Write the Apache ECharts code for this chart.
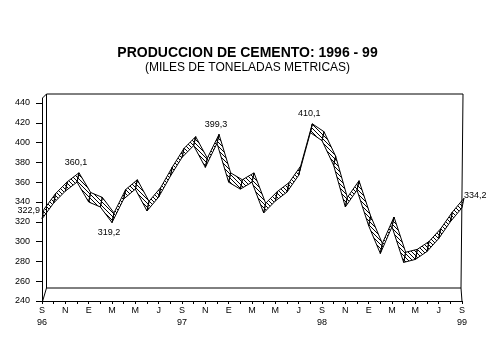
<!DOCTYPE html>
<html><head><meta charset="utf-8">
<script src="https://cdn.jsdelivr.net/npm/echarts@6/dist/echarts.min.js"></script>
<style>html,body{margin:0;padding:0;background:#fff}#c{width:495px;height:356px}</style>
</head><body><div id="c"></div>
<script>
// ---- data ----
const categories = ['S\n96','O','N','D','E','F','M','A','M','J','J','A',
                    'S\n97','O','N','D','E','F','M','A','M','J','J','A',
                    'S\n98','O','N','D','E','F','M','A','M','J','J','A','S\n99'];
const production = [322.9, 339, 351, 360.1, 340, 335, 319.2, 343, 353, 331, 345, 366,
                    385, 397, 375, 399.3, 360, 353, 360, 329, 341, 350, 367, 410.1,
                    402, 377, 335, 352, 316, 288, 315, 279, 282, 290, 303, 320, 334.2];
const yMin = 240, yMax = 440, yStep = 20;
const labeledIdx = [0, 3, 6, 15, 23, 36];

// ---- layout / style ----
const FONT = '"Liberation Sans", Arial, sans-serif';
const F = {left: 42, top: 103, width: 420, height: 198};     // front plane
const B = {top: 94.5, height: 196, dx: 2};                   // back plane (depth)
const WALL = {l: 46.5, t: 94, r: 463, rb: 461, b: 288, ft: 98};
const LABEL_SIDE = {0: 'left', 3: 'top', 6: 'bottom', 15: 'top', 23: 'top', 36: 'right'};

const hatch = document.createElement('canvas');
hatch.width = 4; hatch.height = 4;
const hc = hatch.getContext('2d');
hc.fillStyle = '#000';
for (let k = 0; k < 4; k++) hc.fillRect(k, k, 1, 1);

function backOf(p) {
  return [p[0] + B.dx, B.top + (p[1] - F.top) * B.height / F.height];
}
const fmt = v => v.toFixed(1).replace('.', ',');

function renderItem(params, api) {
  const i = params.dataIndex;
  const children = [];
  const f0 = api.coord([i, production[i]]);
  const b0 = backOf(f0);
  if (i < production.length - 1) {
    const f1 = api.coord([i + 1, production[i + 1]]);
    const b1 = backOf(f1);
    children.push({
      type: 'polygon',
      shape: {points: [f0, f1, b1, b0]},
      style: {fill: {image: hatch, repeat: 'repeat'}, stroke: '#000', lineWidth: 1}
    });
  }
  if (labeledIdx.indexOf(i) >= 0) {
    const side = LABEL_SIDE[i];
    let x, y, align = 'center';
    if (side === 'top') { x = f0[0] - 1; y = b0[1] - 10; }
    else if (side === 'bottom') { x = f0[0] - 3; y = f0[1] + 10; }
    else if (side === 'left') { x = f0[0] - 2; y = b0[1] + 1; align = 'right'; }
    else { x = b0[0]; y = b0[1] - 2.5; align = 'left'; }
    children.push({
      type: 'text', x: x, y: y, z2: 10,
      style: {text: fmt(production[i]), fill: '#000', font: '9px ' + FONT,
              align: align, verticalAlign: 'middle'}
    });
  }
  return {type: 'group', children: children};
}

const chart = echarts.init(document.getElementById('c'), null, {renderer: 'canvas'});
const line = (pts) => ({type: 'polyline', silent: true, z: 0,
  shape: {points: pts}, style: {stroke: '#000', lineWidth: 1, fill: null}});
const R = F.left + F.width, BOT = F.top + F.height;

chart.setOption({
  backgroundColor: '#fff',
  animation: false,
  title: {
    text: 'PRODUCCION DE CEMENTO: 1996 - 99',
    subtext: '(MILES DE TONELADAS METRICAS)',
    left: 'center', top: 41, itemGap: 2,
    textStyle: {fontFamily: FONT, fontSize: 14, fontWeight: 'bold', color: '#000'},
    subtextStyle: {fontFamily: FONT, fontSize: 12, color: '#000'}
  },
  grid: {left: F.left, top: F.top, width: F.width, height: F.height, containLabel: false},
  xAxis: {
    type: 'category', data: categories, boundaryGap: false,
    axisLine: {lineStyle: {color: '#000', width: 1}},
    axisTick: {show: true, interval: 0, length: 3, lineStyle: {color: '#000'}},
    axisLabel: {interval: 1, margin: 4, lineHeight: 11.5, fontSize: 9,
                fontFamily: FONT, color: '#000'},
    splitLine: {show: false}
  },
  yAxis: {
    type: 'value', min: yMin, max: yMax, interval: yStep,
    axisLine: {show: true, lineStyle: {color: '#000', width: 1}},
    axisTick: {show: true, length: 6, lineStyle: {color: '#000'}},
    axisLabel: {margin: 12, fontSize: 9, fontFamily: FONT, color: '#000'},
    splitLine: {show: false}
  },
  graphic: [
    line([[WALL.l, WALL.t], [WALL.r, WALL.t], [WALL.rb, WALL.b], [WALL.l, WALL.b], [WALL.l, WALL.t]]),
    line([[F.left + 0.5, F.top], [F.left + 0.5, WALL.ft], [WALL.l, WALL.t]]),
    line([[F.left + 0.5, BOT + 0.5], [WALL.l, WALL.b]]),
    line([[R, BOT + 0.5], [WALL.rb, WALL.b]])
  ],
  series: [{
    type: 'custom', z: 3,
    data: production.map((v, i) => [i, v]),
    encode: {x: 0, y: 1},
    renderItem: renderItem,
    clip: false
  }]
});
</script></body></html>
